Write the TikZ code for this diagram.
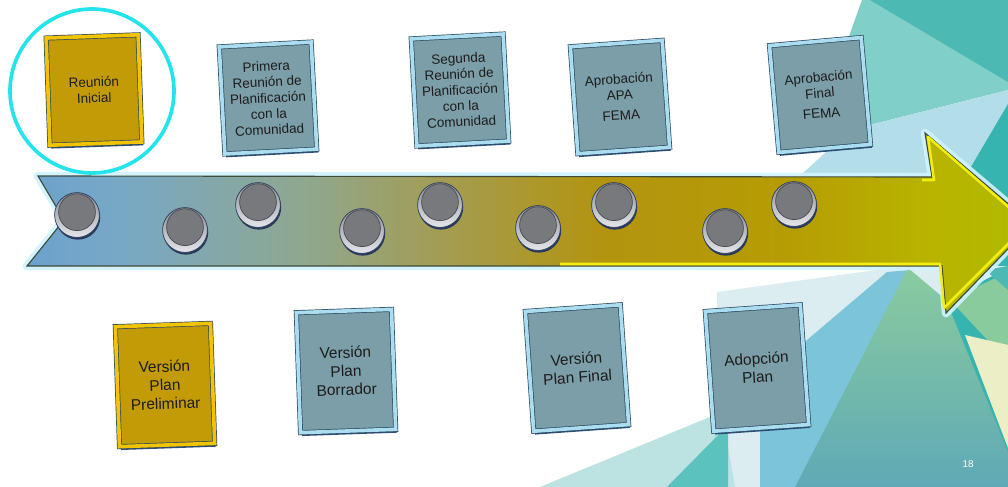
\documentclass[tikz,border=0pt]{standalone}
\usepackage{fontspec}
\setmainfont{Liberation Sans}
\usetikzlibrary{shadows}
\definecolor{planface}{HTML}{7C9EA8}
\definecolor{planframe}{HTML}{AADDF0}
\definecolor{goldface}{HTML}{C39B06}
\definecolor{goldframe}{HTML}{F2C400}
\definecolor{framedark}{HTML}{2E4A5E}
\definecolor{boxshadow}{HTML}{2A4E7E}
\definecolor{inktext}{HTML}{1C1C1C}
\definecolor{ringcyan}{HTML}{22E4EA}
\definecolor{studface}{HTML}{78797D}
\definecolor{studrim}{HTML}{4A4C52}
\definecolor{studtop}{HTML}{8A8C94}
\definecolor{studbot}{HTML}{E4E6EC}
\definecolor{studedge}{HTML}{2A3A5A}
\definecolor{arrowglow}{HTML}{CFF3FF}
\definecolor{arrowedge}{HTML}{3E4A3A}
\definecolor{arrowyellow}{HTML}{F4EE10}
\definecolor{arrA}{HTML}{6CA2CC}
\definecolor{arrB}{HTML}{78A8C6}
\definecolor{arrC}{HTML}{8EA890}
\definecolor{arrD}{HTML}{A49C50}
\definecolor{arrE}{HTML}{B29410}
\definecolor{arrF}{HTML}{B69C04}
\definecolor{arrG}{HTML}{B8B400}
\definecolor{arrH}{HTML}{B0BA00}
\definecolor{bgteal}{HTML}{80CFC8}
\definecolor{bgdark}{HTML}{4DB9B3}
\definecolor{bgblue}{HTML}{B4DDEA}
\definecolor{bgdeep}{HTML}{36B4AF}
\definecolor{bgpale}{HTML}{DCEDF2}
\definecolor{bgpaleteal}{HTML}{BDE2E2}
\definecolor{bgmid}{HTML}{5CC2BD}
\definecolor{bgsky}{HTML}{7CC4DA}
\definecolor{bggreen}{HTML}{8ACB9E}
\definecolor{bgsea}{HTML}{5FA9B6}
\definecolor{bgcream}{HTML}{ECEFC6}
\pgfdeclarehorizontalshading{arrowgrad}{100bp}{color(0bp)=(arrA); color(25bp)=(arrA); color(29.6bp)=(arrB); color(38.6bp)=(arrC); color(46bp)=(arrD); color(53.5bp)=(arrE); color(62.5bp)=(arrF); color(70bp)=(arrG); color(75bp)=(arrH); color(100bp)=(arrH)}
\begin{document}
\begin{tikzpicture}[x=0.025cm, y=-0.025cm,
  plan/.style={rectangle, draw=framedark, double=planframe, double distance=2.6pt, line width=0.5pt,
    fill=planface, text=inktext, align=center, minimum width=2.3cm, minimum height=2.68cm,
    font=\fontsize{9.6}{11.3}\selectfont,
    drop shadow={shadow xshift=1pt, shadow yshift=-2.4pt, fill=boxshadow, opacity=1}},
  gold/.style={plan, fill=goldface, double=goldframe},
  lower/.style={minimum width=2.38cm, minimum height=3cm, font=\fontsize{11}{13.2}\selectfont},
  stud/.style={circle, minimum size=1.12cm, draw=studedge, line width=0.5pt, top color=studtop, bottom color=studbot,
    drop shadow={shadow xshift=0.6pt, shadow yshift=-1.6pt, fill=studedge, opacity=1},
    path picture={\fill[studface, draw=studrim, line width=0.5pt] ([yshift=2pt]path picture bounding box.center) circle (0.46cm);}},
  ring/.style={draw=ringcyan, line width=2.6pt}]
\useasboundingbox (0,0) rectangle (1008,487);
\clip (0,0) rectangle (1008,487);
\fill[white] (0,0) rectangle (1008,487);
\fill[bgteal] (862,0) -- (1008,0) -- (1008,90) -- (850,130) -- (828,95) -- cycle;
\fill[bgdark] (870,0) -- (1008,0) -- (1008,82) -- cycle;
\fill[bgblue] (850,130) -- (1008,90) -- (1008,108) -- (965,185) -- (790,185) -- cycle;
\fill[bgdeep] (1008,104) -- (968,172) -- (945,260) -- (1008,300) -- cycle;
\fill[bgpale] (717,292) -- (905,266) -- (1008,266) -- (1008,487) -- (717,487) -- cycle;
\fill[bgpaleteal] (540,487) -- (722,412) -- (735,487) -- cycle;
\fill[bgmid] (667,487) -- (728,425) -- (728,487) -- cycle;
\fill[bgsky] (887,272) -- (760,380) -- (760,487) -- (795,487) -- (910,270) -- cycle;
\fill[bgdeep] (946,300) -- (1008,268) -- (1008,487) -- cycle;
\fill[bggreen] (950,300) -- (1008,272) -- (1008,362) -- cycle;
\fill[bgcream] (965,335) -- (1008,345) -- (1008,448) -- cycle;
\fill[bgdark] (985,270) -- (1008,266) -- (1008,290) -- cycle;
\shade[top color=bggreen, bottom color=bgsea] (795,487) -- (908,268) -- (946,300) -- (1008,452) -- (1008,487) -- cycle;
\draw[arrowglow, line width=6pt, line join=round, opacity=0.9] (38,176) -- (932,177) -- (925,133) -- (1032,224) -- (946,313) -- (942,266) -- (27,266) -- (64,220) -- cycle;
\shade[shading=arrowgrad, draw=arrowedge, line width=0.8pt] (38,176) -- (932,177) -- (925,133) -- (1032,224) -- (946,313) -- (942,266) -- (27,266) -- (64,220) -- cycle;
\draw[arrowyellow, line width=1.8pt, line join=round] (560,264) -- (940,264) -- (944,308) -- (1028,224) -- (928,137) -- (934,180) -- (922,180);
\foreach \n/\x/\y in {1/77/215, 2/185/230, 3/258/205, 4/362/231, 5/440/205, 6/538/228, 7/614/205, 8/725/231, 9/794/204}
  \node[stud] (st\n) at (\x,\y) {};
\node[gold, rotate=2] (r1) at (94,90) {Reunión\\Inicial};
\node[plan, rotate=3] (r2) at (268,98) {Primera\\Reunión de\\Planificación\\con la\\Comunidad};
\node[plan, rotate=3] (r3) at (460,90) {Segunda\\Reunión de\\Planificación\\con la\\Comunidad};
\node[plan, rotate=4] (r4) at (620,97) {Aprobación\\APA\\[3pt]FEMA};
\node[plan, rotate=5] (r5) at (820,95) {Aprobación\\Final\\[3pt]FEMA};
\node[gold, lower, rotate=2] (v1) at (165,385) {Versión\\Plan\\Preliminar};
\node[plan, lower, rotate=2] (v2) at (346,371) {Versión\\Plan\\Borrador};
\node[plan, lower, rotate=4] (v3) at (577,368) {Versión\\Plan Final};
\node[plan, lower, rotate=4] (v4) at (757,368) {Adopción\\Plan};
\draw[ring] (92,91) circle (82);
\node[text=white, font=\fontsize{7}{8}\selectfont] (pg) at (968,464) {18};
\end{tikzpicture}
\end{document}
